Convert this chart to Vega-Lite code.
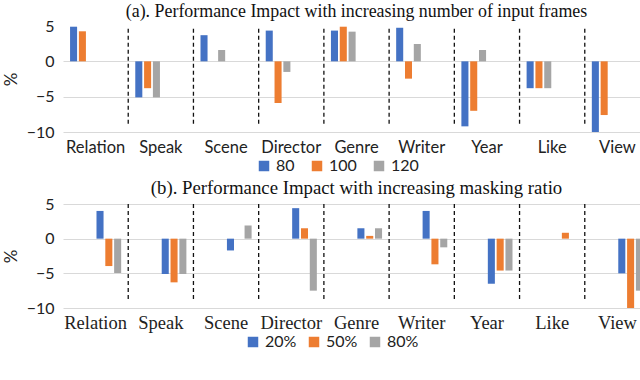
{
  "$schema": "https://vega.github.io/schema/vega-lite/v6.json",
  "padding": {"left": 2, "top": 3, "right": 0, "bottom": 0},
  "spacing": 5,
  "background": "white",
  "config": {
    "view": {"stroke": null},
    "axis": {"domain": false, "ticks": false, "gridColor": "#d9d9d9", "gridWidth": 1.2, "labelColor": "#222", "titleColor": "#222"},
    "legend": {"orient": "none", "direction": "horizontal", "title": null, "symbolType": "square", "symbolSize": 110, "symbolStrokeWidth": 0, "labelFont": "Lato", "labelFontSize": 16, "labelColor": "#222", "columnPadding": 14},
    "title": {"font": "Liberation Serif", "fontWeight": "normal", "color": "#111", "anchor": "middle"}
  },
  "datasets": {
    "a": [
      {"cat": "Relation", "s": "80", "v": 4.9},
      {"cat": "Relation", "s": "100", "v": 4.25},
      {"cat": "Speak", "s": "80", "v": -5.1},
      {"cat": "Speak", "s": "100", "v": -3.8},
      {"cat": "Speak", "s": "120", "v": -5.1},
      {"cat": "Scene", "s": "80", "v": 3.7},
      {"cat": "Scene", "s": "120", "v": 1.6},
      {"cat": "Director", "s": "80", "v": 4.35},
      {"cat": "Director", "s": "100", "v": -5.9},
      {"cat": "Director", "s": "120", "v": -1.5},
      {"cat": "Genre", "s": "80", "v": 4.35},
      {"cat": "Genre", "s": "100", "v": 4.9},
      {"cat": "Genre", "s": "120", "v": 4.2},
      {"cat": "Writer", "s": "80", "v": 4.75},
      {"cat": "Writer", "s": "100", "v": -2.45},
      {"cat": "Writer", "s": "120", "v": 2.45},
      {"cat": "Year", "s": "80", "v": -9.2},
      {"cat": "Year", "s": "100", "v": -7.0},
      {"cat": "Year", "s": "120", "v": 1.6},
      {"cat": "Like", "s": "80", "v": -3.8},
      {"cat": "Like", "s": "100", "v": -3.8},
      {"cat": "Like", "s": "120", "v": -3.8},
      {"cat": "View", "s": "80", "v": -10},
      {"cat": "View", "s": "100", "v": -7.6}
    ],
    "b": [
      {"cat": "Relation", "s": "20%", "v": 4.0},
      {"cat": "Relation", "s": "50%", "v": -3.95},
      {"cat": "Relation", "s": "80%", "v": -4.95},
      {"cat": "Speak", "s": "20%", "v": -5.1},
      {"cat": "Speak", "s": "50%", "v": -6.3},
      {"cat": "Speak", "s": "80%", "v": -5.1},
      {"cat": "Scene", "s": "20%", "v": -1.7},
      {"cat": "Scene", "s": "80%", "v": 1.9},
      {"cat": "Director", "s": "20%", "v": 4.4},
      {"cat": "Director", "s": "50%", "v": 1.5},
      {"cat": "Director", "s": "80%", "v": -7.5},
      {"cat": "Genre", "s": "20%", "v": 1.5},
      {"cat": "Genre", "s": "50%", "v": 0.4},
      {"cat": "Genre", "s": "80%", "v": 1.5},
      {"cat": "Writer", "s": "20%", "v": 4.0},
      {"cat": "Writer", "s": "50%", "v": -3.7},
      {"cat": "Writer", "s": "80%", "v": -1.25},
      {"cat": "Year", "s": "20%", "v": -6.5},
      {"cat": "Year", "s": "50%", "v": -4.6},
      {"cat": "Year", "s": "80%", "v": -4.6},
      {"cat": "Like", "s": "50%", "v": 0.85},
      {"cat": "View", "s": "20%", "v": -5.0},
      {"cat": "View", "s": "50%", "v": -10},
      {"cat": "View", "s": "80%", "v": -7.5}
    ],
    "seps": [
      {"cat": "Relation"}, {"cat": "Speak"}, {"cat": "Scene"}, {"cat": "Director"},
      {"cat": "Genre"}, {"cat": "Writer"}, {"cat": "Year"}, {"cat": "Like"}
    ]
  },
  "vconcat": [
    {
      "title": {"text": "(a). Performance Impact with increasing number of input frames", "fontSize": 17.9, "offset": -3},
      "width": 587,
      "height": 106,
      "layer": [
        {
          "data": {"name": "a"},
          "mark": {"type": "bar"},
          "encoding": {
            "x": {"field": "cat", "type": "nominal", "title": null,
                  "scale": {"domain": ["Relation","Speak","Scene","Director","Genre","Writer","Year","Like","View"], "paddingInner": 0, "paddingOuter": 0},
                  "axis": {"labelAngle": 0, "labelFont": "Lato", "labelFontSize": 16.5, "labelPadding": 7}},
            "xOffset": {"field": "s", "type": "nominal", "scale": {"domain": ["80","100","120"], "paddingInner": 0.2, "paddingOuter": 0.8}},
            "y": {"field": "v", "type": "quantitative", "title": "%",
                  "scale": {"domain": [-10, 5], "nice": false},
                  "axis": {"values": [-10,-5,0,5], "grid": true, "gridColor": {"condition": {"test": "datum.value == 5", "value": "transparent"}, "value": "#d9d9d9"}, "labelOverlap": false, "labelFont": "Lato", "labelFontSize": 16, "labelPadding": 9, "titleFont": "Lato", "titleFontSize": 17, "titleFontWeight": "normal", "titlePadding": 6}},
            "color": {"field": "s", "type": "nominal",
                      "scale": {"domain": ["80","100","120"], "range": ["#4472C4","#ED7D31","#A5A5A5"]},
                      "legend": {"legendX": 193, "legendY": 132}}
          }
        },
        {
          "data": {"name": "seps"},
          "mark": {"type": "rule", "color": "#111", "strokeDash": [4, 3], "strokeWidth": 1.3},
          "encoding": {
            "x": {"field": "cat", "type": "nominal", "bandPosition": 1},
            "y": {"datum": 4.6, "type": "quantitative", "title": "%",
                  "axis": {"values": [-10,-5,0,5], "grid": true, "gridColor": {"condition": {"test": "datum.value == 5", "value": "transparent"}, "value": "#d9d9d9"}, "labelOverlap": false, "labelFont": "Lato", "labelFontSize": 16, "labelPadding": 9, "titleFont": "Lato", "titleFontSize": 17, "titleFontWeight": "normal", "titlePadding": 6}},
            "y2": {"datum": -9.05}
          }
        }
      ]
    },
    {
      "title": {"text": "(b). Performance Impact with increasing masking ratio", "fontSize": 18.8, "offset": -2},
      "width": 587,
      "height": 104,
      "layer": [
        {
          "data": {"name": "b"},
          "mark": {"type": "bar"},
          "encoding": {
            "x": {"field": "cat", "type": "nominal", "title": null,
                  "scale": {"domain": ["Relation","Speak","Scene","Director","Genre","Writer","Year","Like","View"], "paddingInner": 0, "paddingOuter": 0},
                  "axis": {"labelAngle": 0, "labelFont": "Liberation Serif", "labelFontSize": 18.5, "labelPadding": 5}},
            "xOffset": {"field": "s", "type": "nominal", "scale": {"domain": ["20%","50%","80%"], "paddingInner": 0.2, "paddingOuter": 0.8}},
            "y": {"field": "v", "type": "quantitative", "title": "%",
                  "scale": {"domain": [-10, 5], "nice": false},
                  "axis": {"values": [-10,-5,0,5], "grid": true, "labelOverlap": false, "labelFont": "Lato", "labelFontSize": 16, "labelPadding": 9, "titleFont": "Lato", "titleFontSize": 17, "titleFontWeight": "normal", "titlePadding": 6}},
            "color": {"field": "s", "type": "nominal",
                      "scale": {"domain": ["20%","50%","80%"], "range": ["#4472C4","#ED7D31","#A5A5A5"]},
                      "legend": {"legendX": 182, "legendY": 130, "columnPadding": 9}}
          }
        },
        {
          "data": {"name": "seps"},
          "mark": {"type": "rule", "color": "#111", "strokeDash": [4, 3], "strokeWidth": 1.3},
          "encoding": {
            "x": {"field": "cat", "type": "nominal", "bandPosition": 1},
            "y": {"datum": 5, "type": "quantitative", "title": "%",
                  "axis": {"values": [-10,-5,0,5], "grid": true, "labelOverlap": false, "labelFont": "Lato", "labelFontSize": 16, "labelPadding": 9, "titleFont": "Lato", "titleFontSize": 17, "titleFontWeight": "normal", "titlePadding": 6}},
            "y2": {"datum": -9.1}
          }
        }
      ]
    }
  ],
  "resolve": {"scale": {"color": "independent"}}
}
